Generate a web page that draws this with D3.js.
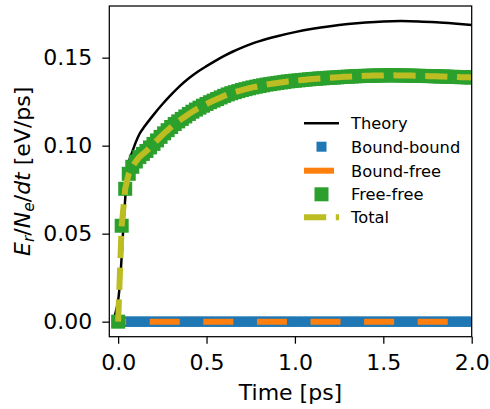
<!DOCTYPE html>
<html>
<head>
<meta charset="utf-8">
<script src="https://cdn.jsdelivr.net/npm/d3@7"></script>
<style>
  body { margin: 0; background: #fff; }
  svg text { font-family: "DejaVu Sans", sans-serif; fill: #000; }
</style>
</head>
<body>
<svg id="canvas" width="490" height="409"></svg>
<script>
// Time grid of the simulation output [ps]
const time = [
  0.00, 0.02, 0.04, 0.06, 0.08, 0.10, 0.12, 0.14, 0.16, 0.18,
  0.20, 0.22, 0.24, 0.26, 0.28, 0.30, 0.32, 0.34, 0.36, 0.38,
  0.40, 0.42, 0.44, 0.46, 0.48, 0.50, 0.52, 0.54, 0.56, 0.58,
  0.60, 0.62, 0.64, 0.66, 0.68, 0.70, 0.72, 0.74, 0.76, 0.78,
  0.80, 0.82, 0.84, 0.86, 0.88, 0.90, 0.92, 0.94, 0.96, 0.98,
  1.00, 1.02, 1.04, 1.06, 1.08, 1.10, 1.12, 1.14, 1.16, 1.18,
  1.20, 1.22, 1.24, 1.26, 1.28, 1.30, 1.32, 1.34, 1.36, 1.38,
  1.40, 1.42, 1.44, 1.46, 1.48, 1.50, 1.52, 1.54, 1.56, 1.58,
  1.60, 1.62, 1.64, 1.66, 1.68, 1.70, 1.72, 1.74, 1.76, 1.78,
  1.80, 1.82, 1.84, 1.86, 1.88, 1.90, 1.92, 1.94, 1.96, 1.98,
  2.00
]

const boundBound = [
  0, 0, 0, 0, 0, 0, 0, 0, 0, 0,
  0, 0, 0, 0, 0, 0, 0, 0, 0, 0,
  0, 0, 0, 0, 0, 0, 0, 0, 0, 0,
  0, 0, 0, 0, 0, 0, 0, 0, 0, 0,
  0, 0, 0, 0, 0, 0, 0, 0, 0, 0,
  0, 0, 0, 0, 0, 0, 0, 0, 0, 0,
  0, 0, 0, 0, 0, 0, 0, 0, 0, 0,
  0, 0, 0, 0, 0, 0, 0, 0, 0, 0,
  0, 0, 0, 0, 0, 0, 0, 0, 0, 0,
  0, 0, 0, 0, 0, 0, 0, 0, 0, 0,
  0
]

// bound-free stays at zero over the whole run
const boundFreeTime = [0.0, 2.0]
const boundFree = [0, 0]

const freeFree = [
  0.0000, 0.0545, 0.0755, 0.0840, 0.0880, 0.0910, 0.0935, 0.0953, 0.0970, 0.0990,
  0.1010, 0.1030, 0.1050, 0.1070, 0.1088, 0.1106, 0.1123, 0.1138, 0.1152, 0.1166,
  0.1180, 0.1193, 0.1205, 0.1216, 0.1227, 0.1237, 0.1247, 0.1256, 0.1265, 0.1274,
  0.1283, 0.1291, 0.1298, 0.1304, 0.1310, 0.1316, 0.1321, 0.1326, 0.1331, 0.1335,
  0.1339, 0.1343, 0.1347, 0.1350, 0.1353, 0.1356, 0.1359, 0.1362, 0.1365, 0.1367,
  0.1369, 0.1371, 0.1373, 0.1375, 0.1377, 0.1379, 0.1380, 0.1382, 0.1383, 0.1385,
  0.1386, 0.1387, 0.1388, 0.1390, 0.1391, 0.1392, 0.1393, 0.1394, 0.1395, 0.1396,
  0.1397, 0.1397, 0.1398, 0.1398, 0.1399, 0.1399, 0.1400, 0.1400, 0.1400, 0.1399,
  0.1399, 0.1399, 0.1398, 0.1398, 0.1397, 0.1397, 0.1396, 0.1396, 0.1395, 0.1395,
  0.1394, 0.1393, 0.1393, 0.1392, 0.1391, 0.1391, 0.1390, 0.1389, 0.1389, 0.1388,
  0.1387
]

const total = [
  0.0000, 0.0545, 0.0755, 0.0840, 0.0880, 0.0910, 0.0935, 0.0953, 0.0970, 0.0990,
  0.1010, 0.1030, 0.1050, 0.1070, 0.1088, 0.1106, 0.1123, 0.1138, 0.1152, 0.1166,
  0.1180, 0.1193, 0.1205, 0.1216, 0.1227, 0.1237, 0.1247, 0.1256, 0.1265, 0.1274,
  0.1283, 0.1291, 0.1298, 0.1304, 0.1310, 0.1316, 0.1321, 0.1326, 0.1331, 0.1335,
  0.1339, 0.1343, 0.1347, 0.1350, 0.1353, 0.1356, 0.1359, 0.1362, 0.1365, 0.1367,
  0.1369, 0.1371, 0.1373, 0.1375, 0.1377, 0.1379, 0.1380, 0.1382, 0.1383, 0.1385,
  0.1386, 0.1387, 0.1388, 0.1390, 0.1391, 0.1392, 0.1393, 0.1394, 0.1395, 0.1396,
  0.1397, 0.1397, 0.1398, 0.1398, 0.1399, 0.1399, 0.1400, 0.1400, 0.1400, 0.1399,
  0.1399, 0.1399, 0.1398, 0.1398, 0.1397, 0.1397, 0.1396, 0.1396, 0.1395, 0.1395,
  0.1394, 0.1393, 0.1393, 0.1392, 0.1391, 0.1391, 0.1390, 0.1389, 0.1389, 0.1388,
  0.1387
]

// Theory curve
const theoryTime = [
  -0.03, -0.02, -0.01, 0.00, 0.01, 0.02, 0.03, 0.04, 0.05, 0.06,
  0.08, 0.10, 0.12, 0.15, 0.20, 0.25, 0.30, 0.35, 0.40, 0.45,
  0.50, 0.55, 0.60, 0.65, 0.70, 0.75, 0.80, 0.90, 1.00, 1.10,
  1.20, 1.30, 1.40, 1.50, 1.60, 1.70, 1.80, 1.90, 2.00
]
const theory = [
  0.000, 0.003, 0.007, 0.012, 0.022, 0.037, 0.055, 0.070, 0.082, 0.0900,
  0.0965, 0.1020, 0.1065, 0.1110, 0.1175, 0.1235, 0.1290, 0.1340, 0.1383, 0.1420,
  0.1452, 0.1482, 0.1510, 0.1535, 0.1557, 0.1577, 0.1594, 0.1622, 0.1645, 0.1664,
  0.1679, 0.1691, 0.1700, 0.1706, 0.1708, 0.1706, 0.1701, 0.1694, 0.1686
]

const xTicks = [0.0, 0.5, 1.0, 1.5, 2.0]
const yTicks = [0.00, 0.05, 0.10, 0.15]

const legendLabels = ["Theory", "Bound-bound", "Bound-free", "Free-free", "Total"]

const colors = {
  theory: "#000000",
  bb: "#1f77b4",
  bf: "#ff7f0e",
  ff: "#2ca02c",
  total: "#bcbd22"
}

// Plot area
const plotLeft = 109.3
const plotRight = 471.7
const plotTop = 6
const plotBottom = 336.7

const canvas = d3.select("#canvas")

const xScale = d3.scaleLinear()
  .domain([-0.05, 2.0])
  .range([plotLeft, plotRight])

const yScale = d3.scaleLinear()
  .domain([-0.00854, 0.17935])
  .range([plotBottom, plotTop])

canvas.append("defs")
  .append("clipPath")
  .attr("id", "plot-clip")
  .append("rect")
  .attr("x", plotLeft)
  .attr("y", plotTop)
  .attr("width", plotRight - plotLeft)
  .attr("height", plotBottom - plotTop)

const plot = canvas.append("g").attr("clip-path", "url(#plot-clip)")

const pairs = (xs, ys) => xs.map((t, i) => ({ t: t, v: ys[i] }))

const line = d3.line()
  .x(d => xScale(d.t))
  .y(d => yScale(d.v))

// Theory
plot.append("path")
  .datum(pairs(theoryTime, theory))
  .attr("fill", "none")
  .attr("stroke", colors.theory)
  .attr("stroke-width", 2.5)
  .attr("d", line.curve(d3.curveMonotoneX))

line.curve(d3.curveLinear)

// Bound-bound squares
plot.append("g")
  .selectAll("rect")
  .data(pairs(time, boundBound))
  .enter()
  .append("rect")
  .attr("x", d => xScale(d.t) - 5)
  .attr("y", d => yScale(d.v) - 5)
  .attr("width", 10)
  .attr("height", 10)
  .attr("fill", colors.bb)

// Bound-free dashed
plot.append("path")
  .datum(pairs(boundFreeTime, boundFree))
  .attr("fill", "none")
  .attr("stroke", colors.bf)
  .attr("stroke-width", 6)
  .attr("stroke-dasharray", "30,23.6")
  .attr("stroke-dashoffset", 22)
  .attr("d", line)

// Free-free squares
plot.append("g")
  .selectAll("rect")
  .data(pairs(time, freeFree))
  .enter()
  .append("rect")
  .attr("x", d => xScale(d.t) - 7)
  .attr("y", d => yScale(d.v) - 7)
  .attr("width", 14)
  .attr("height", 14)
  .attr("fill", colors.ff)

// Total dashed
plot.append("path")
  .datum(pairs(time, total))
  .attr("fill", "none")
  .attr("stroke", colors.total)
  .attr("stroke-width", 6)
  .attr("stroke-dasharray", "22.2,9.6")
  .attr("d", line)

// Axes ----------------
const xAxis = d3.axisBottom(xScale)
  .tickValues(xTicks)
  .tickSize(7)
  .tickPadding(11)
  .tickFormat(d3.format(".1f"))

const yAxis = d3.axisLeft(yScale)
  .tickValues(yTicks)
  .tickSize(7)
  .tickPadding(10)
  .tickFormat(d3.format(".2f"))

const gx = canvas.append("g")
  .attr("transform", `translate(0, ${plotBottom})`)
  .call(xAxis)

const gy = canvas.append("g")
  .attr("transform", `translate(${plotLeft}, 0)`)
  .call(yAxis)

for (const g of [gx, gy]) {
  g.select(".domain").remove()
  g.selectAll(".tick line").attr("stroke", "#000").attr("stroke-width", 1.25)
  g.selectAll(".tick text")
    .style("font-family", "DejaVu Sans")
    .style("font-size", "22px")
    .attr("fill", "#000")
}

// Spines
canvas.append("rect")
  .attr("x", plotLeft)
  .attr("y", plotTop)
  .attr("width", plotRight - plotLeft)
  .attr("height", plotBottom - plotTop)
  .attr("fill", "none")
  .attr("stroke", "#000")
  .attr("stroke-width", 1.25)

// Axis labels
canvas.append("text")
  .attr("x", (plotLeft + plotRight) / 2)
  .attr("y", 400)
  .attr("text-anchor", "middle")
  .style("font-size", "22px")
  .text("Time [ps]")

const yLabel = canvas.append("text")
  .attr("transform", `translate(30, ${(plotTop + plotBottom) / 2}) rotate(-90)`)
  .attr("text-anchor", "middle")
  .style("font-size", "22px")

yLabel.append("tspan").attr("font-style", "italic").text("E")
yLabel.append("tspan").attr("font-style", "italic").attr("font-size", "15.5px").attr("dy", 4).text("r")
yLabel.append("tspan").attr("dy", -4).text("/")
yLabel.append("tspan").attr("font-style", "italic").text("N")
yLabel.append("tspan").attr("font-style", "italic").attr("font-size", "15.5px").attr("dy", 4).text("e")
yLabel.append("tspan").attr("dy", -4).text("/")
yLabel.append("tspan").attr("font-style", "italic").text("dt")
yLabel.append("tspan").text(" [eV/ps]")

// Legend ----------------
const legendRows = [123.3, 146.7, 170.7, 194.3, 217.3]
const handleX0 = 304
const handleX1 = 339
const handleMid = (handleX0 + handleX1) / 2
const legend = canvas.append("g")

legendLabels.forEach((label, i) => {
  const y = legendRows[i]
  if (i === 0) {
    legend.append("line")
      .attr("x1", handleX0).attr("x2", handleX1).attr("y1", y).attr("y2", y)
      .attr("stroke", colors.theory).attr("stroke-width", 2.5)
  } else if (i === 1) {
    legend.append("rect")
      .attr("x", handleMid - 5).attr("y", y - 5).attr("width", 10).attr("height", 10)
      .attr("fill", colors.bb)
  } else if (i === 2) {
    legend.append("line")
      .attr("x1", handleX0).attr("x2", handleX1).attr("y1", y).attr("y2", y)
      .attr("stroke", colors.bf).attr("stroke-width", 6)
      .attr("stroke-dasharray", "30,23.6")
  } else if (i === 3) {
    legend.append("rect")
      .attr("x", handleMid - 7).attr("y", y - 7).attr("width", 14).attr("height", 14)
      .attr("fill", colors.ff)
  } else {
    legend.append("line")
      .attr("x1", handleX0).attr("x2", handleX1).attr("y1", y).attr("y2", y)
      .attr("stroke", colors.total).attr("stroke-width", 6)
      .attr("stroke-dasharray", "22.2,9.6")
  }
  legend.append("text")
    .attr("x", 351)
    .attr("y", y)
    .attr("dy", "0.36em")
    .style("font-size", "16.3px")
    .text(label)
})
</script>
</body>
</html>
